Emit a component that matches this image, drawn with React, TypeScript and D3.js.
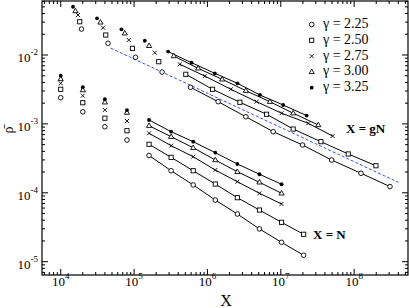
import * as d3 from 'd3'

const W = 409
const H = 308
const margin = { top: 1, right: 1, bottom: 33, left: 42 }

// lower family, X = N
const nLower = [1e4, 2e4, 4e4, 8e4, 1.6e5, 3.2e5, 6.4e5, 1.28e6, 2.56e6, 5.12e6, 1.024e7, 2.048e7]
const rhoLowCircle = [2.4e-3, 1.5e-3, 9.1e-4, 5.83e-4, 3.48e-4, 2.09e-4, 1.3e-4, 7.85e-5, 4.92e-5, 2.99e-5, 1.91e-5, 1.24e-5]
const rhoLowSquare = [3.18e-3, 2.03e-3, 1.21e-3, 7.96e-4, 5.06e-4, 3.27e-4, 2.09e-4, 1.34e-4, 8.49e-5, 5.62e-5, 3.73e-5, 2.5e-5]
const rhoLowCross = [3.88e-3, 2.57e-3, 1.59e-3, 1.1e-3, 7.31e-4, 4.83e-4, 3.34e-4, 2.14e-4, 1.45e-4, 9.83e-5, 6.88e-5]
const rhoLowTri = [4.49e-3, 3.1e-3, 2.06e-3, 1.46e-3, 9.42e-4, 6.52e-4, 4.51e-4, 2.99e-4, 2.02e-4, 1.42e-4, 9.83e-5]
const rhoLowDot = [5.01e-3, 3.41e-3, 2.28e-3, 1.59e-3, 1.14e-3, 7.71e-4, 5.52e-4, 3.82e-4, 2.62e-4, 1.86e-4, 1.33e-4]

// upper family, X = gN
const xUpCircle = [1.92e4, 4.42e4, 1.045e5, 2.41e5, 5.88e5, 1.4e6, 3.34e6, 7.88e6, 1.98e7, 4.93e7, 1.24e8, 3.08e8]
const rhoUpCircle = [2.38e-2, 1.48e-2, 9.26e-3, 5.66e-3, 3.4e-3, 2.1e-3, 1.27e-3, 7.71e-4, 4.94e-4, 2.99e-4, 1.92e-4, 1.23e-4]
const xUpSquare = [1.816e4, 4.11e4, 9.51e4, 2.17e5, 5.07e5, 1.174e6, 2.77e6, 6.4e6, 1.476e7, 3.52e7, 8.31e7, 1.98e8]
const rhoUpSquare = [3.04e-2, 1.95e-2, 1.25e-2, 8.0e-3, 5.25e-3, 3.18e-3, 2.06e-3, 1.38e-3, 8.43e-4, 5.52e-4, 3.66e-4, 2.47e-4]
const xUpCross = [1.72e4, 3.78e4, 8.47e4, 1.916e5, 4.2e5, 9.22e5, 2.085e6, 4.68e6, 1.025e7, 2.36e7, 5.09e7]
const rhoUpCross = [3.81e-2, 2.49e-2, 1.65e-2, 1.08e-2, 7.33e-3, 4.95e-3, 3.18e-3, 2.1e-3, 1.43e-3, 1.02e-3, 6.67e-4]
const xUpTri = [1.587e4, 3.48e4, 7.47e4, 1.602e5, 3.48e5, 7.47e5, 1.587e6, 3.34e6, 7.1e6, 1.476e7, 3.24e7]
const rhoUpTri = [4.35e-2, 2.98e-2, 2.07e-2, 1.36e-2, 9.67e-3, 6.41e-3, 4.44e-3, 3.03e-3, 2.1e-3, 1.43e-3, 9.64e-4]
const xUpDot = [1.472e4, 3.13e4, 6.73e4, 1.4e5, 2.91e5, 6.07e5, 1.262e6, 2.57e6, 5.19e6, 1.078e7, 2.25e7]
const rhoUpDot = [5.02e-2, 3.41e-2, 2.36e-2, 1.61e-2, 1.12e-2, 7.73e-3, 5.42e-3, 3.88e-3, 2.63e-3, 1.88e-3, 1.32e-3]

// blue dashed guide, ~ X^-1/2
const guideLine = [[4.8e4, 1.26e-2], [4.0e8, 1.42e-4]]

const gammas = ['2.25', '2.50', '2.75', '3.00', '3.25']
const shapes = ['circle', 'square', 'cross', 'triangle', 'dot']

const lowerY = [rhoLowCircle, rhoLowSquare, rhoLowCross, rhoLowTri, rhoLowDot]
const upperX = [xUpCircle, xUpSquare, xUpCross, xUpTri, xUpDot]
const upperY = [rhoUpCircle, rhoUpSquare, rhoUpCross, rhoUpTri, rhoUpDot]

const FONT = '"Liberation Serif", "Times New Roman", serif'

function Marker({ shape, cx, cy }: { shape: string; cx: number; cy: number }) {
    const sw = 0.9
    if (shape === 'circle') return <circle cx={cx} cy={cy} r={2.3} fill="#fff" stroke="#000" strokeWidth={sw} />
    if (shape === 'square') return <rect x={cx - 2.1} y={cy - 2.1} width={4.2} height={4.2} fill="#fff" stroke="#000" strokeWidth={sw} />
    if (shape === 'cross')
        return <path d={`M${cx - 2},${cy - 2}L${cx + 2},${cy + 2}M${cx - 2},${cy + 2}L${cx + 2},${cy - 2}`} stroke="#000" strokeWidth={sw} />
    if (shape === 'triangle')
        return <path d={`M${cx},${cy - 2.8}L${cx + 2.6},${cy + 1.7}L${cx - 2.6},${cy + 1.7}Z`} fill="#fff" stroke="#000" strokeWidth={sw} />
    return <circle cx={cx} cy={cy} r={1.9} fill="#000" />
}

export default function App() {
    const x = d3.scaleLog().domain([5559, 5.42e8]).range([margin.left, W - margin.right])
    const y = d3.scaleLog().domain([6.41e-6, 0.0608]).range([H - margin.bottom, margin.top])

    const line = d3.line<number[]>().x(d => x(d[0])).y(d => y(d[1]))

    const x0 = margin.left, x1 = W - margin.right
    const y0 = margin.top, y1 = H - margin.bottom

    const isMajor = (v: number) => Math.abs(Math.log10(v) - Math.round(Math.log10(v))) < 1e-6
    const xTicks = x.ticks()
    const yTicks = y.ticks()

    const series = gammas.map((g, i) => {
        const low = lowerY[i].map((r, j) => [nLower[j], r])
        const up = upperX[i].map((v, j) => [v, upperY[i][j]])
        return { g, shape: shapes[i], low, up }
    })

    return (
        <svg width={W} height={H} style={{ position: 'absolute', left: 0, top: 0, background: '#fff' }} fontFamily={FONT}>
            <rect width={W} height={H} fill="#fff" />

            {/* guide */}
            <path d={line(guideLine) || ''} fill="none" stroke="#3050ff" strokeWidth={1} strokeDasharray="3,2" />

            {/* fit lines */}
            {series.map(s => (
                <g key={'l' + s.g}>
                    <path d={line(s.low.slice(4)) || ''} fill="none" stroke="#000" strokeWidth={1} />
                    <path d={line(s.up.slice(4)) || ''} fill="none" stroke="#000" strokeWidth={1} />
                </g>
            ))}

            {/* markers */}
            {series.map(s => (
                <g key={'m' + s.g}>
                    {s.low.map((d, j) => <Marker key={'a' + j} shape={s.shape} cx={x(d[0])} cy={y(d[1])} />)}
                    {s.up.map((d, j) => <Marker key={'b' + j} shape={s.shape} cx={x(d[0])} cy={y(d[1])} />)}
                </g>
            ))}

            {/* frame + ticks */}
            <rect x={x0} y={y0} width={x1 - x0} height={y1 - y0} fill="none" stroke="#000" strokeWidth={1.2} />
            {xTicks.map((t, i) => {
                const len = isMajor(t) ? 6 : 3
                const px = x(t)
                return (
                    <g key={'xt' + i}>
                        <line x1={px} x2={px} y1={y1} y2={y1 - len} stroke="#000" strokeWidth={1} />
                        <line x1={px} x2={px} y1={y0} y2={y0 + len} stroke="#000" strokeWidth={1} />
                    </g>
                )
            })}
            {yTicks.map((t, i) => {
                const len = isMajor(t) ? 6 : 3
                const py = y(t)
                return (
                    <g key={'yt' + i}>
                        <line x1={x0} x2={x0 + len} y1={py} y2={py} stroke="#000" strokeWidth={1} />
                        <line x1={x1} x2={x1 - len} y1={py} y2={py} stroke="#000" strokeWidth={1} />
                    </g>
                )
            })}

            {/* tick labels */}
            {xTicks.filter(isMajor).map((t, i) => (
                <text key={'xl' + i} x={x(t)} y={286} textAnchor="middle" fontSize={13} fill="#000">
                    10<tspan fontSize={9} dy={-7}>{Math.round(Math.log10(t))}</tspan>
                </text>
            ))}
            {yTicks.filter(isMajor).map((t, i) => (
                <text key={'yl' + i} x={38} y={y(t) + 7} textAnchor="end" fontSize={13} fill="#000">
                    10<tspan fontSize={9} dy={-7}>{Math.round(Math.log10(t))}</tspan>
                </text>
            ))}

            {/* axis titles */}
            <text x={226} y={306} textAnchor="middle" fontSize={16}>X</text>
            <text transform="translate(13,130) rotate(-90)" textAnchor="middle" fontSize={14}>ρ̄</text>

            {/* legend */}
            {series.map((s, i) => (
                <g key={'lg' + s.g} transform={`translate(0,${28 + i * 15.8})`}>
                    <Marker shape={s.shape} cx={311.7} cy={-3.5} />
                    <text x={323} y={0} fontSize={14}>γ = {s.g}</text>
                </g>
            ))}

            <text x={346} y={133} fontSize={13} fontWeight="bold">X = gN</text>
            <text x={313} y={238.5} fontSize={13} fontWeight="bold">X = N</text>
        </svg>
    )
}
